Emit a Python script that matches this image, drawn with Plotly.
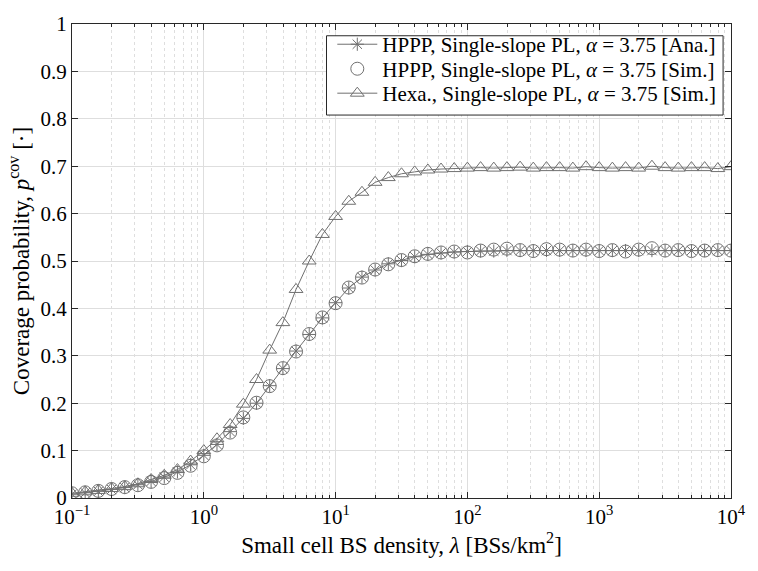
import plotly.graph_objects as go

# Small cell BS density (BSs/km^2), 10 points per decade
density = [0.1, 0.1259, 0.1585, 0.1995, 0.2512, 0.3162, 0.3981, 0.5012, 0.631, 0.7943,
           1.0, 1.259, 1.585, 1.995, 2.512, 3.162, 3.981, 5.012, 6.31, 7.943,
           10.0, 12.59, 15.85, 19.95, 25.12, 31.62, 39.81, 50.12, 63.1, 79.43,
           100.0, 125.9, 158.5, 199.5, 251.2, 316.2, 398.1, 501.2, 631.0, 794.3,
           1000.0, 1259.0, 1585.0, 1995.0, 2512.0, 3162.0, 3981.0, 5012.0, 6310.0, 7943.0,
           10000.0]

hppp_ana = [0.008, 0.011, 0.014, 0.018, 0.022, 0.028, 0.035, 0.044, 0.055, 0.070,
            0.090, 0.113, 0.140, 0.168, 0.200, 0.237, 0.273, 0.310, 0.345, 0.380,
            0.412, 0.443, 0.466, 0.481, 0.494, 0.501, 0.509, 0.514, 0.517, 0.519,
            0.520, 0.521, 0.521, 0.522, 0.522, 0.522, 0.522, 0.522, 0.522, 0.522,
            0.522, 0.522, 0.522, 0.522, 0.522, 0.522, 0.522, 0.522, 0.522, 0.522,
            0.522]

hppp_sim = [0.010, 0.012, 0.015, 0.019, 0.023, 0.027, 0.034, 0.042, 0.053, 0.068,
            0.088, 0.111, 0.138, 0.170, 0.201, 0.236, 0.274, 0.309, 0.346, 0.381,
            0.411, 0.444, 0.465, 0.482, 0.493, 0.502, 0.510, 0.515, 0.518, 0.520,
            0.518, 0.522, 0.524, 0.526, 0.523, 0.521, 0.525, 0.524, 0.522, 0.524,
            0.521, 0.523, 0.520, 0.524, 0.527, 0.522, 0.523, 0.521, 0.522, 0.523,
            0.522]

hexa_sim = [0.010, 0.013, 0.016, 0.020, 0.024, 0.030, 0.039, 0.048, 0.060, 0.078,
            0.100, 0.125, 0.155, 0.198, 0.250, 0.312, 0.370, 0.440, 0.500, 0.556,
            0.594, 0.626, 0.645, 0.666, 0.676, 0.684, 0.688, 0.692, 0.694, 0.695,
            0.696, 0.697, 0.696, 0.697, 0.698, 0.696, 0.697, 0.697, 0.696, 0.699,
            0.697, 0.696, 0.697, 0.696, 0.700, 0.697, 0.696, 0.697, 0.697, 0.695,
            0.699]

x_tick_vals = [0.1, 1, 10, 100, 1000, 10000]
x_tick_text = ["10<sup>−1</sup>", "10<sup>0</sup>", "10<sup>1</sup>",
               "10<sup>2</sup>", "10<sup>3</sup>", "10<sup>4</sup>"]
y_tick_vals = [0, 0.1, 0.2, 0.3, 0.4, 0.5, 0.6, 0.7, 0.8, 0.9, 1]
y_tick_text = ["0", "0.1", "0.2", "0.3", "0.4", "0.5", "0.6", "0.7", "0.8", "0.9", "1"]

names = ["HPPP, Single-slope PL, <i>α</i> = 3.75 [Ana.]",
         "HPPP, Single-slope PL, <i>α</i> = 3.75 [Sim.]",
         "Hexa., Single-slope PL, <i>α</i> = 3.75 [Sim.]"]

col = "rgb(112,112,112)"
font = "Liberation Serif"

fig = go.Figure()
fig.add_trace(go.Scatter(x=density, y=hppp_ana, name=names[0], mode="lines+markers",
                         legend="legend",
                         line=dict(color=col, width=1),
                         marker=dict(symbol="asterisk-open", size=11, color=col,
                                     line=dict(color=col, width=1))))
fig.add_trace(go.Scatter(x=density, y=hppp_sim, name=names[1], mode="markers",
                         legend="legend2",
                         marker=dict(symbol="circle-open", size=13, color=col,
                                     line=dict(color=col, width=1))))
fig.add_trace(go.Scatter(x=density, y=hexa_sim, name=names[2], mode="lines+markers",
                         legend="legend3",
                         line=dict(color=col, width=1),
                         marker=dict(symbol="triangle-up-open", size=12, color=col,
                                     line=dict(color=col, width=1))))

axcol = "rgb(40,40,40)"
grid = "rgb(222,222,222)"

# legend box (one frame around three stacked single-entry legends)
fig.add_shape(type="rect", xref="paper", yref="paper",
              x0=0.3862, x1=0.988, y0=0.8079, y1=0.9752,
              fillcolor="white", line=dict(color=axcol, width=1), layer="above")

leg_common = dict(xanchor="left", yanchor="middle", bgcolor="rgba(0,0,0,0)",
                  borderwidth=0, itemwidth=40,
                  font=dict(family=font, size=21, color="black"))
fig.update_layout(
    legend=dict(x=0.395, y=0.9566, **leg_common),
    legend2=dict(x=0.395, y=0.9049, **leg_common),
    legend3=dict(x=0.395, y=0.8533, **leg_common),
)

fig.update_layout(
    width=758, height=571,
    margin=dict(l=72, r=18, t=14, b=73),
    paper_bgcolor="white", plot_bgcolor="white",
    font=dict(family=font, size=21, color="black"),
    showlegend=True,
    xaxis=dict(type="log", range=[-1, 4], tickvals=x_tick_vals, ticktext=x_tick_text,
               showline=True, linecolor=axcol, linewidth=1, mirror="ticks",
               ticks="inside", ticklen=6, tickcolor=axcol,
               showgrid=True, gridcolor=grid, gridwidth=1, zeroline=False,
               minor=dict(ticks="inside", ticklen=3, tickcolor=axcol,
                          tickvals=[m * d for d in [0.1, 1, 10, 100, 1000] for m in range(2, 10)],
                          showgrid=True, gridcolor=grid, griddash="dot", gridwidth=1),
               title=dict(text="Small cell BS density, <i>λ</i> [BSs/km<sup>2</sup>]",
                          font=dict(size=23), standoff=8),
               tickfont=dict(size=21)),
    yaxis=dict(range=[0, 1], tickvals=y_tick_vals, ticktext=y_tick_text,
               showline=True, linecolor=axcol, linewidth=1, mirror="ticks",
               ticks="inside", ticklen=6, tickcolor=axcol,
               showgrid=True, gridcolor=grid, gridwidth=1, zeroline=False,
               title=dict(text="Coverage probability, <i>p</i><sup>cov</sup> [·]",
                          font=dict(size=23), standoff=4),
               tickfont=dict(size=21)),
)

fig.write_html("out.html")
